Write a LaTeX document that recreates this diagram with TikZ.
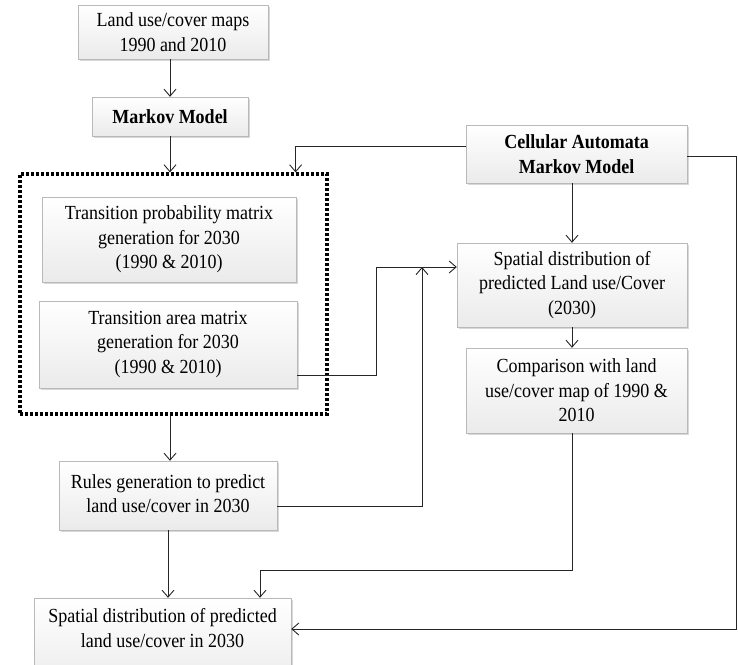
\documentclass[tikz,border=0pt]{standalone}
\usepackage{fontspec}
\setmainfont[FakeStretch=0.9]{Liberation Serif}
\usetikzlibrary{arrows.meta,shadows}

\begin{document}
\begin{tikzpicture}[align=center, x=1pt, y=-1pt]
\tikzstyle{box} = [rectangle, inner sep=0pt, text centered, draw=gray!55, top color=white, bottom color=gray!16,
    drop shadow={shadow xshift=1.5pt, shadow yshift=-1.5pt, fill=gray!60, opacity=.5},
    font=\fontsize{20}{24.5}\selectfont]
\tikzstyle{dotbox} = [rectangle, inner sep=0pt, draw=black, line width=3.2pt, dash pattern=on 3pt off 2pt]
\tikzstyle{arrow} = [line width=0.9pt, draw=black!85, -{Straight Barb[length=7pt,width=12pt,line width=0.9pt]}]
\useasboundingbox (0,0) rectangle (738,664);
    \path
        (173, 32) node[box, minimum width=190pt, minimum height=54pt] (maps) {Land use/cover maps\\1990 and 2010}
        (170, 116.5) node[box, minimum width=156pt, minimum height=39pt] (markov) {\textbf{Markov Model}}
        (576.5, 154) node[box, minimum width=221pt, minimum height=58pt] (camm) {\textbf{Cellular Automata}\\\textbf{Markov Model}}
        (173.5, 294) node[dotbox, minimum width=307pt, minimum height=240pt] (matrices) {}
        (169, 239.5) node[box, minimum width=254pt, minimum height=85pt] (probmat) {Transition probability matrix\\generation for 2030\\(1990 \& 2010)}
        (168, 344.5) node[box, minimum width=258pt, minimum height=87pt] (areamat) {Transition area matrix\\generation for 2030\\(1990 \& 2010)}
        (168, 495.5) node[box, minimum width=218pt, minimum height=69pt] (rules) {\raisebox{11pt}{\begin{tabular}{@{}c@{}}Rules generation to predict\\land use/cover in 2030\end{tabular}}}
        (572, 285) node[box, minimum width=230pt, minimum height=84pt] (spatial) {Spatial distribution of\\predicted Land use/Cover\\(2030)}
        (576.5, 390.5) node[box, minimum width=221pt, minimum height=85pt] (compare) {Comparison with land\\use/cover map of 1990 \&\\2010}
        (162.5, 644) node[box, minimum width=257pt, minimum height=92pt] (result) {Spatial distribution of predicted\\land use/cover in 2030\\\strut};

    \coordinate (merge) at (422, 267);

        \draw [arrow] (maps.south -| markov.north) -- (markov.north);
        \draw [arrow] (markov.south) -- (markov.south |- matrices.north);
        \draw [arrow] ([yshift=8pt]camm.west) -| ([xshift=-33pt]matrices.north east);
        \draw [arrow] (camm.south -| spatial.north) -- (spatial.north);
        \draw [arrow] ([yshift=-30.5pt]areamat.east) -- ++(79,0) |- ([yshift=18pt]spatial.west);
        \draw [arrow] ([yshift=-10.5pt]rules.east) -| (merge);
        \draw [arrow] (spatial.south) -- (spatial.south |- compare.north);
        \draw [arrow] (markov.south |- matrices.south) -- (markov.south |- rules.north);
        \draw [arrow] (rules.south) -- (rules.south |- result.north);
        \draw [arrow] ([xshift=-4pt]compare.south) -- ++(0,137) -| ([xshift=97.5pt]result.north);
        \draw [arrow] ([yshift=-2pt]camm.east) -- ++(49.5,0) |- ([yshift=15pt]result.east);
\end{tikzpicture}
\end{document}
